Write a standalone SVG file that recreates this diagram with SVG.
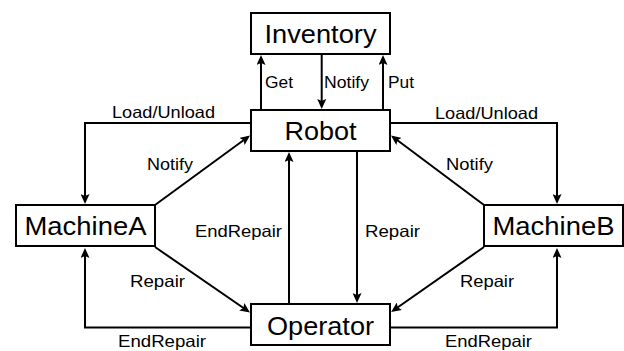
<svg xmlns="http://www.w3.org/2000/svg" width="624" height="351" viewBox="0 0 624 351">
<style>
.box{fill:#fff;stroke:#000;stroke-width:2}
.nt{font-family:"Liberation Sans",Arial,sans-serif;font-size:26px;text-anchor:middle;fill:#000}
.lb{font-family:"Liberation Sans",Arial,sans-serif;font-size:16.5px;fill:#000}
.c{fill:none;stroke:#000;stroke-width:2}
</style>
<defs>
<marker id="ah" markerUnits="userSpaceOnUse" markerWidth="10" markerHeight="9" refX="7" refY="4.5" orient="auto" viewBox="0 0 10 9">
<path d="M0,0 L10,4.5 L0,9 L2,4.5 Z" fill="#000"/>
</marker>
</defs>
<rect width="624" height="351" fill="#fff"/>
<g id="connectors">
<path class="c" d="M261,110 V58" marker-end="url(#ah)"/>
<path class="c" d="M321.7,54 V106" marker-end="url(#ah)"/>
<path class="c" d="M383,110 V58" marker-end="url(#ah)"/>
<path class="c" d="M251,123 H85 V201" marker-end="url(#ah)"/>
<path class="c" d="M155,205 L247.6,137.3" marker-end="url(#ah)"/>
<path class="c" d="M155,247 L247.5,310.8" marker-end="url(#ah)"/>
<path class="c" d="M251,327.5 H85 V251" marker-end="url(#ah)"/>
<path class="c" d="M289,304 V155" marker-end="url(#ah)"/>
<path class="c" d="M357,151 V300" marker-end="url(#ah)"/>
<path class="c" d="M390,123 H557 V201" marker-end="url(#ah)"/>
<path class="c" d="M484,205 L393.4,137.3" marker-end="url(#ah)"/>
<path class="c" d="M484,247 L393.6,310.2" marker-end="url(#ah)"/>
<path class="c" d="M390,327.5 H557 V251" marker-end="url(#ah)"/>
</g>
<g id="labels">
<text class="lb" x="265" y="88" textLength="28" lengthAdjust="spacingAndGlyphs">Get</text>
<text class="lb" x="324" y="88" textLength="45" lengthAdjust="spacingAndGlyphs">Notify</text>
<text class="lb" x="388" y="88" textLength="26" lengthAdjust="spacingAndGlyphs">Put</text>
<text class="lb" x="112" y="118" textLength="103" lengthAdjust="spacingAndGlyphs">Load/Unload</text>
<text class="lb" x="435" y="118.5" textLength="103" lengthAdjust="spacingAndGlyphs">Load/Unload</text>
<text class="lb" x="147" y="170" textLength="46" lengthAdjust="spacingAndGlyphs">Notify</text>
<text class="lb" x="446" y="170" textLength="47" lengthAdjust="spacingAndGlyphs">Notify</text>
<text class="lb" x="195" y="237" textLength="87" lengthAdjust="spacingAndGlyphs">EndRepair</text>
<text class="lb" x="365" y="237" textLength="55" lengthAdjust="spacingAndGlyphs">Repair</text>
<text class="lb" x="130" y="287" textLength="55" lengthAdjust="spacingAndGlyphs">Repair</text>
<text class="lb" x="460" y="287" textLength="54" lengthAdjust="spacingAndGlyphs">Repair</text>
<text class="lb" x="118" y="347" textLength="88" lengthAdjust="spacingAndGlyphs">EndRepair</text>
<text class="lb" x="445" y="347" textLength="87" lengthAdjust="spacingAndGlyphs">EndRepair</text>
</g>
<g id="inventory">
<rect class="box" x="251" y="13" width="139" height="41"/>
<text class="nt" x="320.5" y="42.5" textLength="112" lengthAdjust="spacingAndGlyphs">Inventory</text>
</g>
<g id="robot">
<rect class="box" x="251" y="110" width="139" height="41"/>
<text class="nt" x="320.5" y="140" textLength="72" lengthAdjust="spacingAndGlyphs">Robot</text>
</g>
<g id="operator">
<rect class="box" x="251" y="304" width="139" height="41"/>
<text class="nt" x="320.5" y="334.5" textLength="107" lengthAdjust="spacingAndGlyphs">Operator</text>
</g>
<g id="machineA">
<rect class="box" x="16" y="205" width="139" height="41"/>
<text class="nt" x="85.5" y="235" textLength="122" lengthAdjust="spacingAndGlyphs">MachineA</text>
</g>
<g id="machineB">
<rect class="box" x="484" y="205" width="139" height="41"/>
<text class="nt" x="553.5" y="235" textLength="122" lengthAdjust="spacingAndGlyphs">MachineB</text>
</g>
</svg>
